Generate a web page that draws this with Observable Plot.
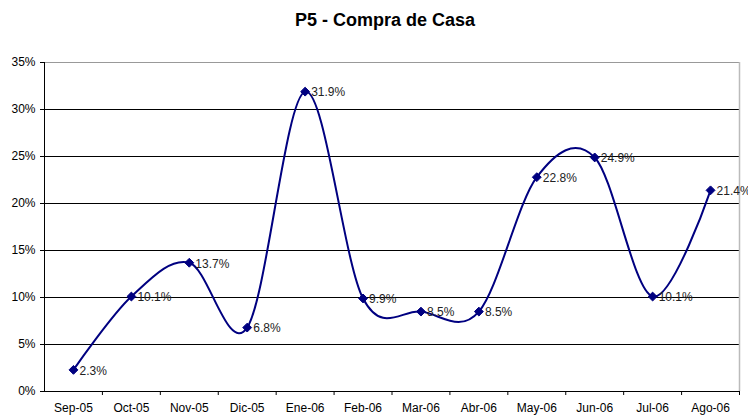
<!DOCTYPE html>
<html>
<head>
<meta charset="utf-8">
<script src="https://cdn.jsdelivr.net/npm/d3@7"></script>
<script src="https://cdn.jsdelivr.net/npm/@observablehq/plot@0.6"></script>
<style>
  body { margin: 0; background: #fff; font-family: "Liberation Sans", Arial, sans-serif; }
  #title { height: 50px; width: 748px; box-sizing: border-box; padding-left: 22px; text-align: center; font-weight: bold; font-size: 18px; line-height: 22px; padding-top: 9px; color: #000; }
</style>
</head>
<body>
<div id="title">P5 - Compra de Casa</div>
<div id="chart"></div>
<script>
const categories = ["Sep-05","Oct-05","Nov-05","Dic-05","Ene-06","Feb-06","Mar-06","Abr-06","May-06","Jun-06","Jul-06","Ago-06"];
const values = [0.023, 0.101, 0.137, 0.068, 0.319, 0.099, 0.085, 0.085, 0.228, 0.249, 0.101, 0.214];
const yTicks = [0, 0.05, 0.10, 0.15, 0.20, 0.25, 0.30];
const yTop = 0.35;

const data = categories.map((c, i) => ({i, c, v: values[i]}));
const centers = categories.map((c, i) => i);
const edges = categories.map((c, i) => i + 0.5);

const chart = Plot.plot({
  width: 748,
  height: 366,
  marginTop: 12,
  marginBottom: 25,
  marginLeft: 44,
  marginRight: 9,
  style: {fontFamily: "'Liberation Sans', Arial, sans-serif", fontSize: "12px", color: "#000", background: "#fff", overflow: "visible"},
  x: {type: "linear", domain: [-0.5, categories.length - 0.5]},
  y: {domain: [0, yTop]},
  marks: [
    Plot.ruleY(yTicks.slice(1), {stroke: "#000", strokeWidth: 1, strokeOpacity: 1}),
    Plot.ruleY([yTop], {stroke: "#999", strokeWidth: 1}),
    Plot.ruleX([categories.length - 0.5], {stroke: "#bbb", strokeWidth: 1.5}),
    Plot.axisY([...yTicks, yTop], {tickFormat: d3.format(".0%"), tickSize: 4, tickPadding: 5, stroke: "#000", strokeOpacity: 1, label: null, fontSize: 12}),
    Plot.axisX(edges, {tickFormat: () => "", tickSize: 4, stroke: "#000", strokeOpacity: 1, label: null}),
    Plot.axisX(centers, {tickFormat: i => categories[i], tickSize: 0, tickPadding: 12, label: null, fontSize: 12}),
    Plot.ruleX([-0.5], {stroke: "#000", strokeWidth: 1}),
    Plot.ruleY([0], {stroke: "#000", strokeWidth: 1}),
    Plot.line(data, {x: "i", y: "v", curve: "cardinal", stroke: "#000080", strokeWidth: 2}),
    Plot.dot(data, {x: "i", y: "v", symbol: "diamond2", r: 4, fill: "#000080", stroke: "#000080", strokeWidth: 1}),
    Plot.text(data, {x: "i", y: "v", text: d => d3.format(".1%")(d.v), textAnchor: "start", dx: 6, dy: 1, fill: "#222", fontSize: 12})
  ]
});
document.getElementById("chart").appendChild(chart);
</script>
</body>
</html>
